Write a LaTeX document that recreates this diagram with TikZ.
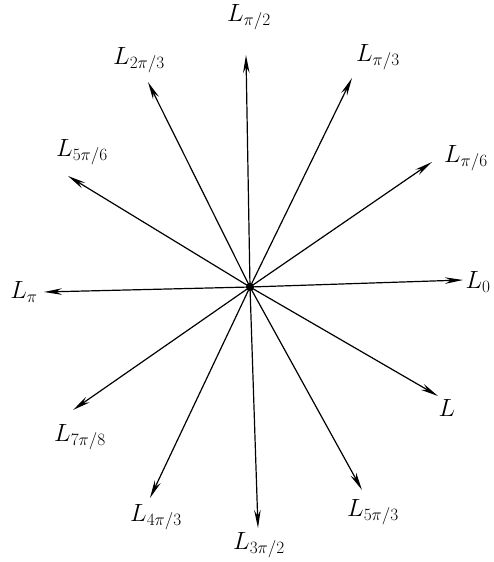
\documentclass[tikz,border=0pt]{standalone}
\usetikzlibrary{arrows.meta}
\begin{document}
\begin{tikzpicture}[x=1pt,y=-1pt,
  ray/.style={line width=1.2pt,-{Stealth[length=18pt,width=6.5pt]}},
  lab/.style={inner sep=0pt,font=\fontsize{25}{27}\selectfont}]
\useasboundingbox (0,0) rectangle (494,562);
\coordinate (o) at (250,287);
\fill (o) circle (4pt);
% tips
\coordinate (t0) at (463,280);
\coordinate (t30) at (432,162);
\coordinate (t60) at (352,78);
\coordinate (t90) at (246,55);
\coordinate (t120) at (148,82);
\coordinate (t150) at (68,176);
\coordinate (t180) at (44,292);
\coordinate (t210) at (73,410);
\coordinate (t240) at (150,498);
\coordinate (t270) at (258,528);
\coordinate (t300) at (362,490);
\coordinate (t330) at (438,396);
% labels
\node[lab] (l0) at (478,282) {$L_0$};
\node[lab] (l30) at (466,158) {$L_{\pi/6}$};
\node[lab] (l60) at (378,57) {$L_{\pi/3}$};
\node[lab] (l90) at (249,17) {$L_{\pi/2}$};
\node[lab] (l120) at (139,60) {$L_{2\pi/3}$};
\node[lab] (l150) at (82,152) {$L_{5\pi/6}$};
\node[lab] (l180) at (24,292) {$L_{\pi}$};
\node[lab] (l210) at (80,437) {$L_{7\pi/8}$};
\node[lab] (l240) at (156,517) {$L_{4\pi/3}$};
\node[lab] (l270) at (259,545) {$L_{3\pi/2}$};
\node[lab] (l300) at (373,512) {$L_{5\pi/3}$};
\node[lab] (l330) at (447,408) {$L$};
\foreach \a in {0,30,60,90,120,150,180,210,240,270,300,330}
  \draw[ray] (o) -- (t\a);
\end{tikzpicture}
\end{document}
